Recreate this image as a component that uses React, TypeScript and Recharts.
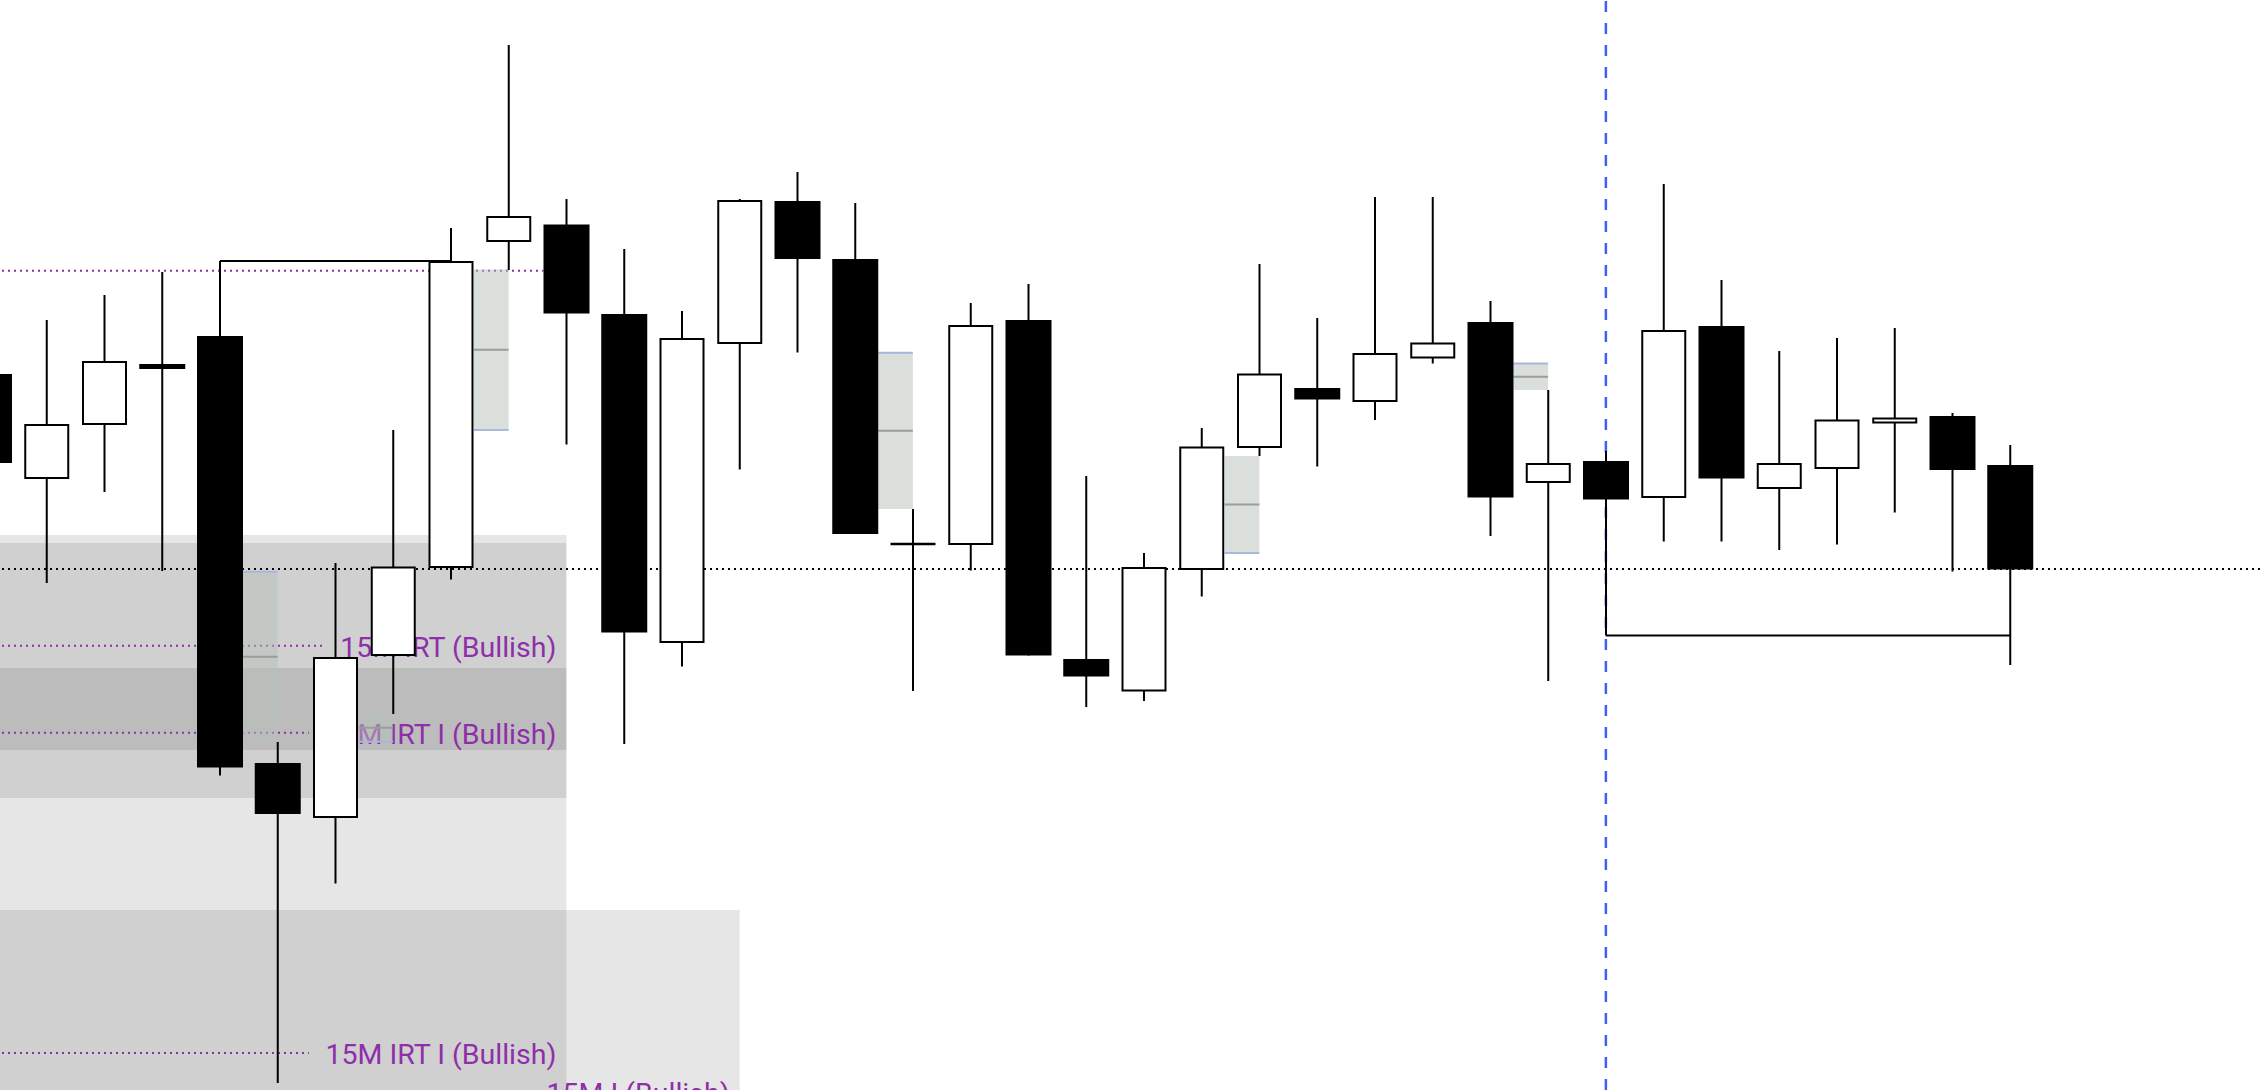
import React from 'react';
import {
  ComposedChart,
  Bar,
  XAxis,
  YAxis,
  ReferenceArea,
  ReferenceLine,
  ReferenceDot,
} from 'recharts';

// ---- 15-minute candles (index 0 is the partly visible bar on the left edge) ----
const opens = [
  20716, 20612, 20666, 20726, 20754, 20327, 20273, 20435, 20523, 20849, 20865.5, 20776,
  20448, 20747, 20889, 20831, 20546, 20546, 20770, 20431, 20399.5, 20521, 20643, 20702,
  20689, 20732.5, 20768, 20608, 20629, 20593, 20764, 20602, 20622, 20667.5, 20674, 20625,
];
const highs = [
  20722, 20770, 20795, 20818, 20829, 20348, 20527, 20660, 20862, 21045, 20891, 20841,
  20779, 20891, 20918, 20887, 20581, 20787, 20806, 20614, 20537, 20662, 20826, 20772,
  20893, 20893, 20789, 20700, 20639, 20906, 20810, 20739, 20752, 20762, 20677, 20645,
];
const lows = [
  20620, 20507, 20598, 20519, 20314.5, 20007, 20206.5, 20376, 20510.5, 20820, 20645.5, 20346,
  20423.5, 20620.5, 20737.5, 20556, 20399, 20519.5, 20434.5, 20383, 20389, 20493.5, 20634, 20623.5,
  20670, 20726.5, 20554, 20409, 20454.5, 20548.5, 20548.5, 20540, 20545.5, 20577.5, 20518.5, 20425,
];
const closes = [
  20627, 20665, 20728, 20721, 20322.5, 20276, 20432, 20522.5, 20828, 20873, 20776.5, 20457.5,
  20751, 20889, 20831, 20556, 20546, 20764, 20434.5, 20413.5, 20522, 20642.5, 20715.5, 20690.5,
  20736, 20746.5, 20592.5, 20626, 20590.5, 20759, 20611.5, 20626, 20669.5, 20671.5, 20620, 20520.5,
];

// ---- price window and slot window ----
const priceDomain = [20000, 21090];
const slotDomain = [-0.5, 39.5];

// ---- shaded IRT zones ----
const zoneX1 = [-0.5, -0.5, -0.5, -0.5];
const zoneX2 = [10, 10, 10, 13];
const zoneTop = [20555, 20547, 20422, 20180];
const zoneBottom = [20000, 20292, 20340, 20000];

// ---- labelled IRT levels ----
const levelNames = ['15M IRT (Bullish)', '15M IRT I (Bullish)', '15M IRT I (Bullish)', '15M I (Bullish)'];
const levelPrices = [20444.3, 20357.3, 20037, 19998];
const levelLineEnd = [5.77, 5.54, 5.54, 8.1];
const levelLabelAt = [10, 10, 10, 13];

// ---- other horizontal levels ----
const sweptHigh = 20819.3;
const sweptHighEnd = 9.6;
const openingLevel = 20521;

// ---- fair value gaps (start after the candle body of gapFrom) ----
const gapFrom = [4, 6, 8, 15, 21, 26];
const gapTop = [20518.3, 20376.3, 20820.4, 20737.3, 20634, 20726.5];
const gapBottom = [20348.3, 20348.3, 20660, 20581, 20537, 20700];
const gapEdge = ['top', 'bottom', 'bottom', 'top', 'bottom', 'top'];

// ---- session marker and range brackets ----
const sessionStart = 28;
const bracketHigh = { from: 4, to: 8 };
const bracketLow = { from: 28, to: 35 };

const candles = opens.map((o, i) => ({
  idx: i,
  open: o,
  high: highs[i],
  low: lows[i],
  close: closes[i],
}));

const PURPLE = '#8e2fa9';

function CandleShape(props: any) {
  const { x, y, width, height, payload } = props;
  if (!payload || width == null) return null;
  const top = Math.min(y, y + height);
  const h = Math.abs(height);
  const range = payload.high - payload.low;
  const toY = (v: number) => (range === 0 ? top : top + ((payload.high - v) / range) * h);
  const cx = x + width / 2;
  const up = payload.close >= payload.open;
  const bTop = toY(Math.max(payload.open, payload.close));
  const bBot = toY(Math.min(payload.open, payload.close));
  const bh = bBot - bTop;
  return (
    <g>
      <line x1={cx} x2={cx} y1={top} y2={top + h} stroke="#000" strokeWidth={2} />
      {bh < 1 ? (
        <line x1={x + 0.5} x2={x + width - 0.5} y1={bTop} y2={bTop} stroke="#000" strokeWidth={2.5} />
      ) : up ? (
        <rect x={x + 1.5} y={bTop} width={width - 3} height={bh} fill="#fff" stroke="#000" strokeWidth={2} />
      ) : (
        <rect x={x} y={bTop} width={width} height={bh} fill="#000" />
      )}
    </g>
  );
}

export default function App() {
  return (
    <div style={{ position: 'absolute', left: -39.875, top: 0, width: 2310, height: 1090 }}>
      <style>{'html,body{margin:0;padding:0;overflow:hidden;background:#fff}'}</style>
      <ComposedChart
        width={2310}
        height={1090}
        data={candles}
        margin={{ top: 0, right: 0, bottom: 0, left: 0 }}
      >
        <XAxis dataKey="idx" type="number" domain={slotDomain} allowDataOverflow hide />
        <YAxis type="number" domain={priceDomain} allowDataOverflow hide />

        {zoneTop.map((t, i) => (
          <ReferenceArea
            key={`zone-${i}`}
            x1={zoneX1[i]}
            x2={zoneX2[i]}
            y1={zoneBottom[i]}
            y2={t}
            fill="rgb(47,47,47)"
            fillOpacity={0.12}
            stroke="none"
            ifOverflow="hidden"
            zIndex={10}
          />
        ))}

        <ReferenceLine
          segment={[{ x: -0.5, y: sweptHigh }, { x: sweptHighEnd, y: sweptHigh }]}
          stroke={PURPLE}
          strokeWidth={2}
          strokeDasharray="2 4"
          ifOverflow="visible"
          zIndex={20}
        />
        {levelPrices.map((p, i) => (
          <ReferenceLine
            key={`lvl-${i}`}
            segment={[{ x: -0.5, y: p }, { x: levelLineEnd[i], y: p }]}
            stroke={PURPLE}
            strokeWidth={2}
            strokeDasharray="2 4"
            ifOverflow="visible"
            zIndex={20}
          />
        ))}
        {levelPrices.map((p, i) => (
          <ReferenceDot
            key={`lbl-${i}`}
            x={levelLabelAt[i]}
            y={p}
            r={0}
            ifOverflow="visible"
            zIndex={30}
            shape={(sp: any) => (
              <text
                x={sp.cx - 10}
                y={sp.cy}
                dy="0.38em"
                textAnchor="end"
                fill={PURPLE}
                fontFamily="Roboto, 'Noto Sans', sans-serif"
                fontSize={28.5}
              >
                {levelNames[i]}
              </text>
            )}
          />
        ))}

        {gapFrom.map((k, i) => (
          <ReferenceArea
            key={`gap-${i}`}
            x1={k + 0.4}
            x2={k + 1}
            y1={gapBottom[i]}
            y2={gapTop[i]}
            fill="rgb(184,192,186)"
            fillOpacity={0.5}
            stroke="none"
            ifOverflow="visible"
            zIndex={40}
          />
        ))}
        {gapFrom.map((k, i) => {
          const mid = (gapTop[i] + gapBottom[i]) / 2;
          return (
            <ReferenceLine
              key={`gapmid-${i}`}
              segment={[{ x: k + 0.4, y: mid }, { x: k + 1, y: mid }]}
              stroke="#9a9e9a"
              strokeWidth={2}
              ifOverflow="visible"
              zIndex={41}
            />
          );
        })}
        {gapFrom.map((k, i) => {
          const edge = gapEdge[i] === 'top' ? gapTop[i] : gapBottom[i];
          return (
            <ReferenceLine
              key={`gapedge-${i}`}
              segment={[{ x: k + 0.4, y: edge }, { x: k + 1, y: edge }]}
              stroke="#a9b7dc"
              strokeWidth={2}
              ifOverflow="visible"
              zIndex={41}
            />
          );
        })}

        <ReferenceLine
          y={openingLevel}
          stroke="#000"
          strokeWidth={2}
          strokeDasharray="2 4"
          ifOverflow="visible"
          zIndex={50}
        />
        <ReferenceLine
          x={sessionStart}
          stroke="#3b62f2"
          strokeWidth={2.5}
          strokeDasharray="11 11"
          ifOverflow="visible"
          zIndex={50}
        />

        <Bar
          dataKey={(d: any) => [d.low, d.high]}
          barSize={46}
          shape={CandleShape}
          isAnimationActive={false}
          zIndex={60}
        />

        <ReferenceLine
          segment={[
            { x: bracketHigh.from, y: highs[bracketHigh.from] },
            { x: bracketHigh.to, y: highs[bracketHigh.from] },
          ]}
          stroke="#000"
          strokeWidth={2}
          ifOverflow="visible"
          zIndex={70}
        />
        <ReferenceLine
          segment={[
            { x: bracketLow.from, y: lows[bracketLow.from] },
            { x: bracketLow.to, y: lows[bracketLow.from] },
          ]}
          stroke="#000"
          strokeWidth={2}
          ifOverflow="visible"
          zIndex={70}
        />
      </ComposedChart>
    </div>
  );
}
